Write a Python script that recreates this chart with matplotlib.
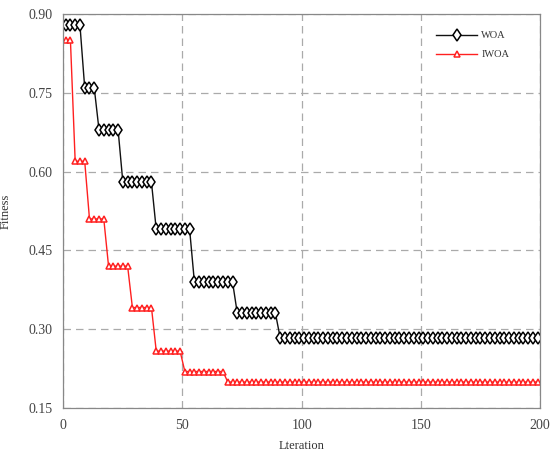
import numpy as np
import matplotlib
matplotlib.use("Agg")
import matplotlib.pyplot as plt

plt.rcParams['font.family'] = ['Liberation Serif', 'DejaVu Serif']

# iterations where markers sit (every other iteration)
iters = np.arange(1, 201, 2)

# step levels, with how many points each level lasts
woa_levels = [0.880, 0.760, 0.680, 0.580, 0.490, 0.390, 0.330, 0.283]
woa_counts = [4, 3, 5, 7, 8, 9, 9, 55]
iwoa_levels = [0.852, 0.620, 0.510, 0.420, 0.341, 0.258, 0.219, 0.199]
iwoa_counts = [2, 3, 4, 5, 5, 6, 9, 66]

woa = np.repeat(woa_levels, woa_counts)
iwoa = np.repeat(iwoa_levels, iwoa_counts)

x_ticks = [0, 50, 100, 150, 200]
y_ticks = [0.15, 0.30, 0.45, 0.60, 0.75, 0.90]

fig = plt.figure(figsize=(5.5, 4.51), dpi=100)
ax = fig.add_axes([0.115, 0.096, 0.867, 0.872])

ax.plot(iters, woa, color='#111111', lw=1.0, marker='d', ms=6,
        mfc='white', mec='black', mew=1.1, label='WOA')
ax.plot(iters, iwoa, color='#ff2020', lw=1.0, marker='^', ms=5,
        mfc='white', mec='#ff2020', mew=1.1, label='IWOA')

ax.set_xlim(0, 200)
ax.set_ylim(0.15, 0.90)
ax.set_xticks(x_ticks)
ax.set_yticks(y_ticks)
ax.set_yticklabels([f'{v:.2f}' for v in y_ticks])
ax.grid(True, color='#aaaaaa', ls=(0, (6, 4)), lw=0.9)
ax.tick_params(length=0, labelsize=10, labelcolor='#444444', pad=8)
for s in ax.spines.values():
    s.set_color('#888888')
    s.set_linewidth(0.9)

ax.set_xlabel('Lteration', fontsize=9, color='#333333')
ax.set_ylabel('Fitness', fontsize=9, color='#333333')
ax.xaxis.set_label_coords(0.5, -0.082)
ax.yaxis.set_label_coords(-0.108, 0.5)

leg = ax.legend(loc='upper right', frameon=False, fontsize=7.5,
                handlelength=3.9, handletextpad=0.4,
                bbox_to_anchor=(0.955, 0.982), labelspacing=0.95)
for t in leg.get_texts():
    t.set_color('#333333')

fig.savefig('out.png', dpi=100)
